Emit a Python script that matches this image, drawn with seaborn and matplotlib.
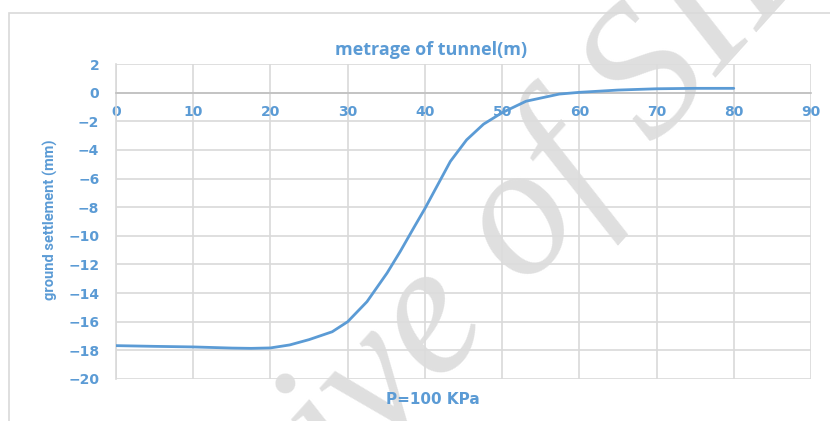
# Ground settlement along the tunnel, P=100 KPa

import numpy as np
import pandas as pd
import matplotlib
matplotlib.use("Agg")
import matplotlib.pyplot as plt
import seaborn as sns
from matplotlib.patches import Rectangle

# -----------------------------
# Data
# -----------------------------
metrage = [0, 5, 10, 15, 17.5, 20, 22.5, 25, 28, 30, 32.5, 35.1, 36.8,
           38.6, 40, 41.6, 43.3, 45.4, 47.6, 50, 53.1, 57.4, 60, 65, 70,
           75, 80]
settlement = [-17.67, -17.72, -17.76, -17.84, -17.86, -17.83, -17.62, -17.25,
              -16.7, -16.0, -14.6, -12.6, -11.1, -9.4, -8.1, -6.5, -4.8,
              -3.3, -2.2, -1.4, -0.6, -0.1, 0.02, 0.18, 0.27, 0.3, 0.3]
x_ticks = list(range(0, 91, 10))
y_ticks = list(range(-20, 3, 2))

df = pd.DataFrame({"metrage": metrage, "settlement": settlement})

blue = "#5B9BD5"
grid_grey = "#d9d9d9"

sns.set_theme(style="whitegrid")
plt.rcParams["font.family"] = ["DejaVu Sans"]

fig = plt.figure(figsize=(8.3, 4.21), dpi=100)
ax = fig.add_axes([116 / 830, 1 - 379 / 421, (811 - 116) / 830, (379 - 64) / 421])

# outer chart frame
fig.patches.append(Rectangle((9 / 830, -0.2), 1.2, 1 - 13 / 421 + 0.2,
                             transform=fig.transFigure, fill=False,
                             edgecolor=grid_grey, linewidth=1.2))

# -----------------------------
# Curve
# -----------------------------
sns.lineplot(data=df, x="metrage", y="settlement", color=blue,
             linewidth=2.0, ax=ax, zorder=3)

ax.set_xlim(0, 90)
ax.set_ylim(-20, 2)
ax.set_xticks(x_ticks)
ax.set_yticks(y_ticks)
ax.set_xlabel("")
ax.set_ylabel("")

ax.grid(True, color=grid_grey, linewidth=1.2)
for side in ["top", "right"]:
    ax.spines[side].set_visible(False)
ax.spines["left"].set_color(grid_grey)
ax.spines["left"].set_linewidth(1.2)
ax.spines["bottom"].set_position(("data", 0))
ax.spines["bottom"].set_color("#bfbfbf")
ax.spines["bottom"].set_linewidth(1.2)

ax.tick_params(axis="x", length=0, pad=9, labelsize=10, labelcolor=blue)
ax.tick_params(axis="y", length=0, pad=12, labelsize=10, labelcolor=blue)
for lab in ax.get_xticklabels() + ax.get_yticklabels():
    lab.set_fontweight("bold")

# -----------------------------
# Texts
# -----------------------------
fig.text(431 / 830, 1 - 50 / 421, "metrage of tunnel(m)", ha="center",
         va="center", fontsize=13, fontweight="bold", color=blue,
         family=["Open Sans", "DejaVu Sans"])
fig.text(433 / 830, 1 - 399 / 421, "P=100 KPa", ha="center", va="center",
         fontsize=11, fontweight="bold", color=blue)
fig.text(50 / 830, 1 - 220 / 421, "ground settlement (mm)", ha="center",
         va="center", rotation=90, fontsize=10.5, fontweight="bold", color=blue,
         family=["Roboto", "DejaVu Sans"])

# watermark
ax.text(447 / 830, 1 - 318 / 421, "Archive of SID", transform=fig.transFigure,
        ha="center", va="center", rotation=48, rotation_mode="anchor",
        fontsize=135, style="italic",
        family=["Liberation Serif", "DejaVu Serif"],
        color="#dcdcdc", alpha=0.9, zorder=1.5, clip_on=False)

fig.savefig("out.png", dpi=100)
